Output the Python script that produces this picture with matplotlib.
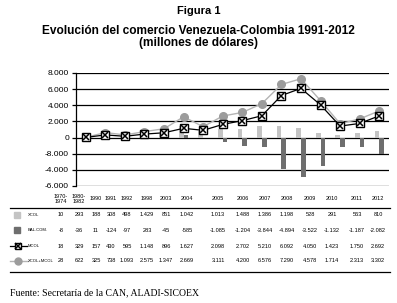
import numpy as np
import matplotlib
matplotlib.use("Agg")
import matplotlib.pyplot as plt

plt.rcParams['font.family'] = ['Liberation Sans', 'DejaVu Sans']

# Data (millones de dólares)
periods = ["1970-\n1974", "1980-\n1982", "1990", "1991", "1992", "1998", "2003", "2004",
           "2005", "2006", "2007", "2008", "2009", "2010", "2011", "2012"]
xcol = [10, 293, 188, 308, 498, 1429, 851, 1042, 1013, 1488, 1386, 1198, 528, 291, 563, 810]
bal_com = [-8, -36, 11, -124, -97, 283, -45, -585, -1085, -1204, -3844, -4894, -3522, -1132, -1187, -2082]
mcol = [18, 329, 157, 430, 595, 1148, 896, 1627, 2098, 2702, 5210, 6092, 4050, 1423, 1750, 2692]
xcol_mcol = [28, 622, 325, 738, 1093, 2575, 1347, 2669, 3111, 4200, 6576, 7290, 4578, 1714, 2313, 3302]

y_ticks = [8000, 6000, 4000, 2000, 0, -2000, -4000, -6000]
y_tick_labels = ["8.000", "6.000", "4.000", "2.000", "0", "-8.000", "-4.000", "-6.000"]

LIGHT = "#c4c4c4"
DARK = "#6e6e6e"
CIRCLE = "#9c9c9c"

W, H = 397, 303
fig = plt.figure(figsize=(W / 100, H / 100), dpi=100)

fig.text(0.5, 1 - 11 / H, "Figura 1", ha="center", va="center", fontsize=8, fontweight="bold")
fig.text(0.5, 1 - 37 / H, "Evolución del comercio Venezuela-Colombia 1991-2012\n(millones de dólares)",
         ha="center", va="center", fontsize=8.6, fontweight="bold", linespacing=1.0)

# Chart area (pixel boxes converted to fractions)
ax = fig.add_axes([76 / W, 1 - 186 / H, (389 - 76) / W, (186 - 73) / H])
x = np.arange(len(periods))
bw = 0.24
ax.bar(x - bw / 2, xcol, width=bw, color=LIGHT, zorder=2)
ax.bar(x + bw / 2, bal_com, width=bw, color=DARK, zorder=2)
ax.plot(x, xcol_mcol, color="#b4b4b4", lw=1, marker="o", ms=5.5,
        mfc=CIRCLE, mec=CIRCLE, zorder=3)
ax.plot(x, mcol, color="black", lw=0.9, marker="s", ms=5.5,
        mfc="white", mec="black", mew=1, zorder=4)
ax.plot(x, mcol, ls="none", marker="x", ms=5, mec="black", mew=1.1, zorder=5)

ax.set_xlim(-0.5, len(periods) - 0.5)
ax.set_ylim(-6000, 8000)
ax.set_yticks(y_ticks)
ax.set_yticklabels(y_tick_labels, fontsize=6)
ax.set_xticks([])
for v in y_ticks:
    ax.axhline(v, color="black", lw=0.9, zorder=1)
for s in ["top", "right", "bottom"]:
    ax.spines[s].set_visible(False)
ax.spines["left"].set_linewidth(0.9)
ax.tick_params(axis="y", length=3, width=0.9, pad=2)

# Data table below the chart, drawn in pixel coordinates
tab = fig.add_axes([0, 0, 1, 1])
tab.set_xlim(0, W)
tab.set_ylim(H, 0)
tab.axis("off")

col_x = [61, 79, 96, 111, 127, 147, 166, 187, 218, 243, 265, 287, 310, 332, 357, 378]


def fmt(v):
    s = f"{abs(v):,}".replace(",", ".")
    return "-" + s if v < 0 else s


for cx, lab in zip(col_x, periods):
    tab.text(cx, 199, lab, ha="center", va="center", fontsize=4, linespacing=1.0)
tab.plot([10, 390], [208, 208], color="black", lw=0.9)
tab.plot([10, 390], [272, 272], color="black", lw=0.9)

rows = [xcol, bal_com, mcol, xcol_mcol]
row_names = ["XCOL", "BAL.COM.", "MCOL", "XCOL+MCOL"]
row_y = [215, 230, 246, 261]
for vals, name, ry in zip(rows, row_names, row_y):
    tab.text(28, ry, name, ha="left", va="center", fontsize=3)
    for cx, v in zip(col_x, vals):
        tab.text(cx, ry, fmt(v), ha="center", va="center", fontsize=4.1)

# legend keys
tab.plot(17, row_y[0], marker="s", ms=4, mfc=LIGHT, mec=LIGHT, ls="none")
tab.plot(17, row_y[1], marker="s", ms=4, mfc=DARK, mec=DARK, ls="none")
tab.plot([10, 27], [row_y[2]] * 2, color="black", lw=0.9)
tab.plot(18, row_y[2], marker="s", ms=5, mfc="white", mec="black", mew=1)
tab.plot(18, row_y[2], marker="x", ms=4.5, mec="black", mew=1.1)
tab.plot([10, 28], [row_y[3]] * 2, color="#b4b4b4", lw=1)
tab.plot(18, row_y[3], marker="o", ms=5, mfc=CIRCLE, mec=CIRCLE)

fig.text(10 / W, 1 - 293 / H, "Fuente: Secretaría de la CAN, ALADI-SICOEX",
         ha="left", va="center", fontsize=7, family=["Liberation Serif", "DejaVu Serif"])

fig.savefig("out.png", dpi=100, facecolor="white")
